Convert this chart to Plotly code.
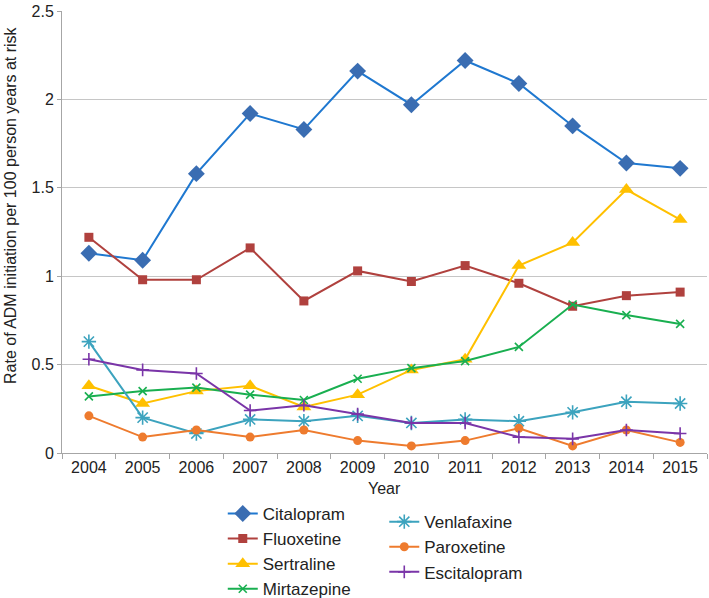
import plotly.graph_objects as go

years = ["2004", "2005", "2006", "2007", "2008", "2009", "2010", "2011", "2012", "2013", "2014", "2015"]

citalopram = [1.13, 1.09, 1.58, 1.92, 1.83, 2.16, 1.97, 2.22, 2.09, 1.85, 1.64, 1.61]
fluoxetine = [1.22, 0.98, 0.98, 1.16, 0.86, 1.03, 0.97, 1.06, 0.96, 0.83, 0.89, 0.91]
sertraline = [0.38, 0.28, 0.35, 0.38, 0.26, 0.33, 0.47, 0.53, 1.06, 1.19, 1.49, 1.32]
mirtazepine = [0.32, 0.35, 0.37, 0.33, 0.30, 0.42, 0.48, 0.52, 0.60, 0.84, 0.78, 0.73]
venlafaxine = [0.63, 0.20, 0.11, 0.19, 0.18, 0.21, 0.17, 0.19, 0.18, 0.23, 0.29, 0.28]
paroxetine = [0.21, 0.09, 0.13, 0.09, 0.13, 0.07, 0.04, 0.07, 0.14, 0.04, 0.13, 0.06]
escitalopram = [0.53, 0.47, 0.45, 0.24, 0.27, 0.22, 0.17, 0.17, 0.09, 0.08, 0.13, 0.11]

FONT = "Liberation Sans, Arial, sans-serif"

series = [
    ("Citalopram", citalopram, "#1F78D0", dict(symbol="diamond", size=13, color="#3A6DB2", line=dict(width=0)), "legend"),
    ("Fluoxetine", fluoxetine, "#B0413E", dict(symbol="square", size=9, color="#B0413E", line=dict(width=0)), "legend"),
    ("Sertraline", sertraline, "#FFC000", dict(symbol="triangle-up", size=13, color="#FFC000", line=dict(width=0)), "legend"),
    ("Mirtazepine", mirtazepine, "#19AF50", dict(symbol="x-thin", size=8, color="#19AF50", line=dict(width=1.6, color="#19AF50")), "legend"),
    ("Venlafaxine", venlafaxine, "#3CA3BE", dict(symbol="asterisk", size=12, color="#3CA3BE", line=dict(width=1.6, color="#3CA3BE")), "legend2"),
    ("Paroxetine", paroxetine, "#EE7B2E", dict(symbol="circle", size=9, color="#EE7B2E", line=dict(width=0)), "legend2"),
    ("Escitalopram", escitalopram, "#7A35A8", dict(symbol="cross-thin", size=9, color="#7A35A8", line=dict(width=1.6, color="#7A35A8")), "legend2"),
]

fig = go.Figure()
for name, vals, col, mk, lg in series:
    fig.add_trace(go.Scatter(
        x=years, y=vals, name=name, mode="lines+markers",
        line=dict(color=col, width=2), marker=mk, legend=lg,
    ))

fig.update_layout(
    width=709, height=598,
    margin=dict(l=62, r=2, t=11, b=145, autoexpand=False),
    paper_bgcolor="white", plot_bgcolor="white",
    font=dict(family=FONT, size=16, color="#222222"),
    showlegend=True,
    legend=dict(xref="container", yref="container", x=0.3142, y=0.1707,
                xanchor="left", yanchor="top", font=dict(size=17, color="#222222"),
                bgcolor="rgba(0,0,0,0)", tracegroupgap=0),
    legend2=dict(xref="container", yref="container", x=0.542, y=0.157,
                 xanchor="left", yanchor="top", font=dict(size=17, color="#222222"),
                 bgcolor="rgba(0,0,0,0)", tracegroupgap=0),
    xaxis=dict(type="category", range=[-0.5, 11.5], showgrid=False, automargin=False,
               showline=True, linecolor="#A6A6A6", linewidth=1,
               ticks="outside", tickson="boundaries", ticklen=5, tickcolor="#A6A6A6",
               tickangle=0, tickfont=dict(size=16, color="#222222")),
    yaxis=dict(range=[0, 2.5], dtick=0.5, showgrid=True, gridcolor="#C6C6C6", gridwidth=1,
               showline=True, linecolor="#A6A6A6", linewidth=1, automargin=False,
               ticks="outside", ticklen=4, tickcolor="#A6A6A6", zeroline=False,
               tickfont=dict(size=16, color="#222222")),
    annotations=[
        dict(text="Year", xref="paper", yref="paper", x=0.5, y=(598 - 489 - 145) / 442,
             showarrow=False, font=dict(size=16, color="#222222"), xanchor="center", yanchor="middle"),
        dict(text="Rate of ADM initiation per 100 person years at risk", xref="paper", yref="paper",
             x=(10 - 62) / 645, y=(453 - 205) / 442, textangle=-90, showarrow=False,
             font=dict(size=16, color="#222222"), xanchor="center", yanchor="middle"),
    ],
)

fig.write_html("out.html", config={"displayModeBar": False},
               post_script="document.body.style.margin='0';")
